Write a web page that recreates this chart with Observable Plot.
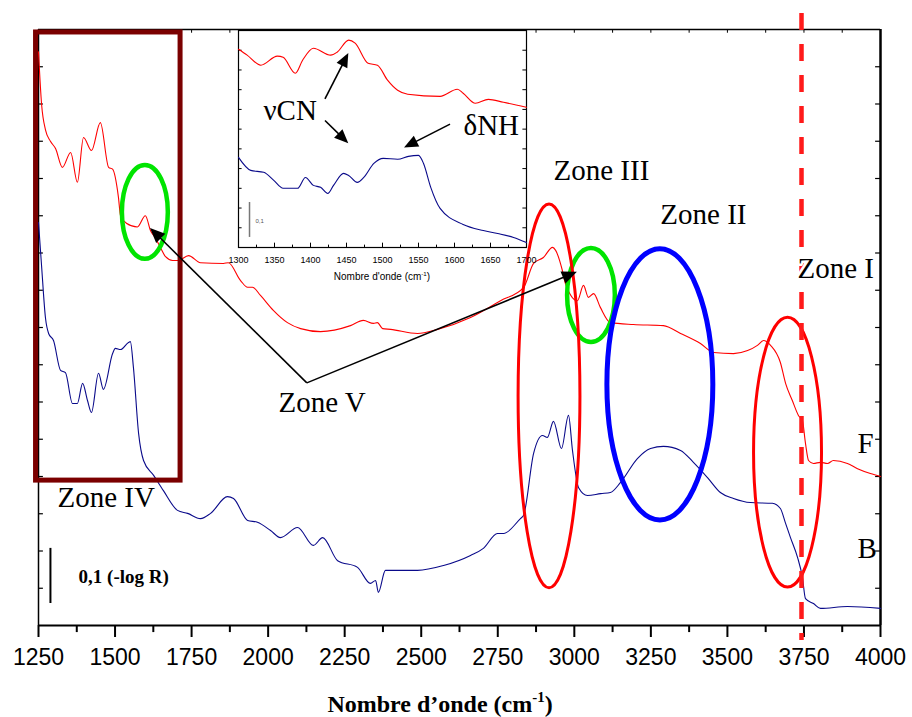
<!DOCTYPE html>
<html><head><meta charset="utf-8">
<script src="https://cdn.jsdelivr.net/npm/d3@7"></script>
<script src="https://cdn.jsdelivr.net/npm/@observablehq/plot@0.6"></script>
<style>
html,body{margin:0;padding:0;background:#fff;}
#wrap{position:relative;width:912px;height:717px;overflow:hidden;}
#wrap > svg{position:absolute;left:0;top:0;}
#wrap > svg.inset{left:226px;top:22px;}
</style></head><body><div id="wrap"></div>
<script>
// ---- main spectra (wavenumber cm-1, -log R in arbitrary offset units) ----
const redWn = [1250,1260,1273,1289,1306,1328,1355,1377,1397,1423,1452,1479,1492,1511,1518,1537,1573,1599,1616,1632,1648,1665,1688,1707,1740,1779,1854,1870,1910,1933,1949,1975,2017,2063,2106,2171,2269,2311,2344,2357,2374,2400,2488,2553,2661,2759,2834,2867,2899,2929,2939,2961,2971,3010,3030,3046,3063,3085,3118,3193,3291,3347,3412,3455,3520,3566,3598,3618,3641,3673,3690,3712,3732,3745,3755,3765,3781,3804,3827,3846,3892,3925,3967,4000];
const redAbs = [15.4,14.0,13.3,13.0,12.8,12.3,12.7,11.9,13.1,12.75,13.5,12.3,12.25,11.5,11.0,10.8,10.7,11.0,10.6,10.4,10.15,9.9,9.8,9.8,9.93,9.74,9.72,9.74,9.26,9.08,9.08,8.86,8.46,8.13,7.97,7.89,8.05,8.19,8.11,8.13,7.97,7.95,7.84,7.95,8.27,8.72,9.07,9.72,9.88,10.15,10.07,9.53,9.18,8.72,9.13,8.81,8.91,8.54,8.13,8.08,8.05,7.84,7.57,7.33,7.30,7.38,7.52,7.65,7.52,7.06,6.50,6.04,5.64,5.50,4.89,4.43,4.35,4.38,4.35,4.43,4.35,4.21,4.08,4.00];
const blueWn = [1250,1260,1273,1283,1299,1322,1338,1361,1377,1394,1410,1423,1446,1462,1492,1501,1518,1544,1550,1560,1577,1593,1626,1658,1704,1737,1779,1812,1867,1887,1933,1965,2008,2040,2096,2148,2178,2227,2292,2334,2351,2360,2383,2488,2573,2661,2703,2749,2769,2824,2834,2867,2896,2912,2932,2958,2981,2994,3014,3043,3086,3118,3151,3206,3249,3291,3347,3389,3435,3477,3520,3575,3647,3673,3690,3706,3729,3745,3755,3781,3804,3892,4000];
const blueAbs = [10.82,9.66,8.24,7.84,7.65,6.85,6.79,5.96,5.96,6.50,6.04,5.72,6.77,6.34,7.30,7.44,7.41,7.60,7.62,6.93,5.15,4.43,4.03,3.62,3.09,3.01,2.87,3.01,3.46,3.41,2.82,2.77,2.55,2.36,2.63,2.15,2.36,1.74,1.56,1.13,1.21,0.89,1.48,1.48,1.61,1.88,2.07,2.47,2.47,2.87,2.95,4.62,5.10,5.05,5.48,4.75,5.64,4.70,3.70,3.49,3.54,3.57,3.84,4.48,4.75,4.81,4.70,4.38,3.97,3.57,3.41,3.30,3.28,3.14,2.74,2.36,1.83,1.29,0.72,0.59,0.46,0.51,0.46];

// ---- inset spectra (1300-1700 cm-1) ----
const insetRedWn = [1300,1312,1331,1354,1362,1379,1389,1404,1428,1437,1453,1462,1480,1493,1507,1521,1535,1580,1604,1612,1629,1647,1668,1700];
const insetRedAbs = [10.05,9.75,9.24,9.70,9.64,8.83,9.49,10.10,9.75,9.90,10.51,10.36,9.34,9.24,8.48,7.97,7.77,7.66,8.02,7.82,7.31,7.51,7.36,7.11];
const insetBlueWn = [1300,1317,1335,1349,1362,1382,1393,1404,1414,1424,1432,1446,1453,1465,1474,1488,1501,1521,1536,1550,1557,1567,1580,1612,1640,1660,1682,1700];
const insetBlueAbs = [4.57,3.91,3.81,3.40,3.00,3.00,3.55,3.15,3.05,2.74,3.15,3.76,3.65,3.30,3.55,4.26,4.52,4.47,4.62,4.67,4.26,3.05,1.98,1.17,0.86,0.71,0.51,0.25];

// ---- ticks ----
const xMajor = [1250,1500,1750,2000,2250,2500,2750,3000,3250,3500,3750,4000];
const xMinor = [1375,1625,1875,2125,2375,2625,2875,3125,3375,3625,3875];
const yTicks = [1,2,3,4,5,6,7,8,9,10,11,12,13,14,15];
const insetMajor = [1300,1350,1400,1450,1500,1550,1600,1650,1700];
const insetMinor = [1325,1375,1425,1475,1525,1575,1625,1675];
const insetYTicks = [1,2,3,4,5,6,7,8,9,10];

const zip = (xs, ys) => xs.map((x, i) => ({x, y: ys[i]}));
const red = zip(redWn, redAbs), blue = zip(blueWn, blueAbs);
const iRed = zip(insetRedWn, insetRedAbs), iBlue = zip(insetBlueWn, insetBlueAbs);

const SERIF = "Liberation Serif, Times New Roman, serif";
const SANS = "Liberation Sans, Arial, sans-serif";

// custom marks drawn through the plot's scales
function ellipses(list) {
  return (index, {x, y}) => {
    const g = d3.create("svg:g").attr("fill", "none");
    for (const e of list) {
      g.append("ellipse")
        .attr("cx", x(e.cx)).attr("cy", y(e.cy))
        .attr("rx", Math.abs(x(e.cx + e.rx) - x(e.cx)))
        .attr("ry", Math.abs(y(e.cy + e.ry) - y(e.cy)))
        .attr("stroke", e.color).attr("stroke-width", e.w);
    }
    return g.node();
  };
}
function arrows(list, len = 15, half = 6.5, width = 1.6) {
  return (index, {x, y}) => {
    const g = d3.create("svg:g");
    for (const a of list) {
      const x1 = x(a.x1), y1 = y(a.y1), x2 = x(a.x2), y2 = y(a.y2);
      const dx = x2 - x1, dy = y2 - y1, L = Math.hypot(dx, dy), ux = dx / L, uy = dy / L;
      const bx = x2 - ux * len, by = y2 - uy * len;
      g.append("line").attr("x1", x1).attr("y1", y1).attr("x2", bx + ux * 2).attr("y2", by + uy * 2)
        .attr("stroke", "black").attr("stroke-width", width);
      g.append("path").attr("fill", "black")
        .attr("d", `M${x2},${y2}L${bx - uy * half},${by + ux * half}L${bx + uy * half},${by - ux * half}Z`);
    }
    return g.node();
  };
}
function supText(xv, yv, base, sup, tail, size, family, weight) {
  return (index, {x, y}) => {
    const t = d3.create("svg:text").attr("x", x(xv)).attr("y", y(yv))
      .attr("text-anchor", "middle").attr("font-family", family)
      .attr("font-size", size).attr("font-weight", weight).attr("fill", "black");
    t.append("tspan").text(base);
    t.append("tspan").attr("dy", -size * 0.42).attr("font-size", size * 0.62).text(sup);
    t.append("tspan").attr("dy", size * 0.42).text(tail);
    return t.node();
  };
}

const zoneText = (label, x, y, halo) => Plot.text([label], {x: () => x, y: () => y, text: d => d,
  textAnchor: "start", lineAnchor: "bottom", fontFamily: SERIF, fontSize: 29, fill: "black",
  ...(halo ? {stroke: "white", strokeWidth: 5} : {})});

const main = Plot.plot({
  width: 912, height: 717,
  marginLeft: 38, marginRight: 32, marginTop: 29, marginBottom: 92,
  x: {domain: [1250, 4000]},
  y: {domain: [0, 16], axis: null},
  style: {background: "white", overflow: "visible"},
  marks: [
    // frame & ticks
    Plot.ruleY([16], {strokeWidth: 1.3}),
    Plot.ruleX([1250], {y1: 0, y2: 16, strokeWidth: 1.5}),
    Plot.ruleX([4000], {y1: 0, y2: 16, strokeWidth: 2.5}),
    Plot.ruleY(yTicks, {x1: 1250, x2: 1266, strokeWidth: 1.2}),
    Plot.ruleY(yTicks, {x1: 3984, x2: 4000, strokeWidth: 1.2}),
    Plot.ruleX(xMajor.concat(xMinor), {y1: 16, y2: 15.9, strokeWidth: 1}),
    Plot.ruleX(xMinor, {y1: 0, y2: -0.19, strokeWidth: 2}),
    Plot.axisX(xMajor, {anchor: "bottom", tickSize: 12, tickPadding: 11, strokeWidth: 2,
      fontSize: 23, fontFamily: SANS, tickFormat: d => String(d), label: null}),
    Plot.ruleY([0], {strokeWidth: 2}),
    // spectra
    Plot.line(red, {x: "x", y: "y", stroke: "#ff0000", strokeWidth: 1.1, curve: "monotone-x"}),
    Plot.line(blue, {x: "x", y: "y", stroke: "#0a0a8a", strokeWidth: 1.1, curve: "monotone-x"}),
    // zone IV box
    Plot.rect([0], {x1: 1242, x2: 1714, y1: 3.89, y2: 15.92, fill: "none", stroke: "#7b0000", strokeWidth: 5}),
    // ellipses
    ellipses([
      {cx: 1599, cy: 11.09, rx: 75, ry: 1.26, color: "#00e400", w: 4.5},
      {cx: 3056, cy: 8.86, rx: 78, ry: 1.26, color: "#00e400", w: 4.5},
      {cx: 2919, cy: 6.15, rx: 101, ry: 5.15, color: "#ff0000", w: 3},
      {cx: 3281, cy: 6.46, rx: 173, ry: 3.64, color: "#0000ff", w: 5},
      {cx: 3698, cy: 4.64, rx: 111, ry: 3.62, color: "#ff0000", w: 3}
    ]),
    // dashed marker line
    Plot.ruleX([3742], {y1: 16.43, y2: -0.4, stroke: "#ff1a1a", strokeWidth: 4.5, strokeDasharray: "17,14"}),
    // Zone V arrows
    arrows([
      {x1: 2128, y1: 6.50, x2: 1616, y2: 10.66},
      {x1: 2128, y1: 6.50, x2: 3010, y2: 9.48}
    ]),
    // scale bar
    Plot.ruleX([1289], {y1: 0.59, y2: 2.07, strokeWidth: 2}),
    Plot.text(["0,1 (-log R)"], {x: () => 1381, y: () => 1.15, text: d => d, textAnchor: "start",
      lineAnchor: "bottom", fontFamily: SERIF, fontSize: 19, fontWeight: "bold", fill: "black"}),
    // labels
    zoneText("Zone IV", 1312, 3.17),
    zoneText("Zone V", 2034, 5.72),
    zoneText("Zone III", 2932, 11.95),
    zoneText("Zone II", 3281, 10.79),
    zoneText("Zone I", 3729, 9.32, true),
    zoneText("F", 3925, 4.64),
    zoneText("B", 3925, 1.80),
    supText(2563, -2.34, "Nombre d\u2019onde (cm", "-1", ")", 24, SERIF, "bold")
  ]
});

const inset = Plot.plot({
  width: 306, height: 262,
  marginLeft: 12, marginRight: 6, marginTop: 8, marginBottom: 37,
  x: {domain: [1300, 1700]},
  y: {domain: [0, 11], axis: null},
  style: {background: "transparent", overflow: "visible"},
  marks: [
    Plot.frame({fill: "white", stroke: "black", strokeWidth: 1.2}),
    Plot.ruleX(insetMajor, {y1: 0, y2: 0.22, strokeWidth: 1}),
    Plot.ruleX(insetMinor, {y1: 0, y2: 0.12, strokeWidth: 1}),
    Plot.ruleY(insetYTicks, {x1: 1300, x2: 1305, strokeWidth: 1}),
    Plot.ruleY(insetYTicks, {x1: 1695, x2: 1700, strokeWidth: 1}),
    Plot.axisX(insetMajor, {anchor: "bottom", tickSize: 0, tickPadding: 9, fontSize: 9,
      fontFamily: SANS, tickFormat: d => String(d), label: null}),
    Plot.line(iRed, {x: "x", y: "y", stroke: "#ff0000", strokeWidth: 1.1, curve: "monotone-x"}),
    Plot.line(iBlue, {x: "x", y: "y", stroke: "#0a0a8a", strokeWidth: 1.1, curve: "monotone-x"}),
    Plot.ruleX([1315.3], {y1: 0.51, y2: 2.28, stroke: "#777", strokeWidth: 1.5}),
    Plot.text(["0,1"], {x: () => 1323.6, y: () => 1.32, text: d => d, textAnchor: "start",
      fontFamily: SANS, fontSize: 6, fill: "#555"}),
    arrows([
      {x1: 1420.8, y1: 7.51, x2: 1453.2, y2: 9.83},
      {x1: 1420.8, y1: 6.41, x2: 1453.2, y2: 5.26},
      {x1: 1594.5, y1: 6.23, x2: 1530.6, y2: 5.04}
    ], 14, 6, 1.6),
    Plot.text(["\u03bdCN"], {x: () => 1334.7, y: () => 6.45, text: d => d, textAnchor: "start",
      lineAnchor: "bottom", fontFamily: SERIF, fontSize: 29, fill: "black"}),
    Plot.text(["\u03b4NH"], {x: () => 1612.5, y: () => 5.69, text: d => d, textAnchor: "start",
      lineAnchor: "bottom", fontFamily: SERIF, fontSize: 29, fill: "black"}),
    supText(1500, -1.675, "Nombre d'onde (cm", "-1", ")", 10, SANS, "normal")
  ]
});
inset.setAttribute("class", (inset.getAttribute("class") || "") + " inset");

const wrap = document.getElementById("wrap");
wrap.appendChild(main);
wrap.appendChild(inset);
</script>
</body></html>
